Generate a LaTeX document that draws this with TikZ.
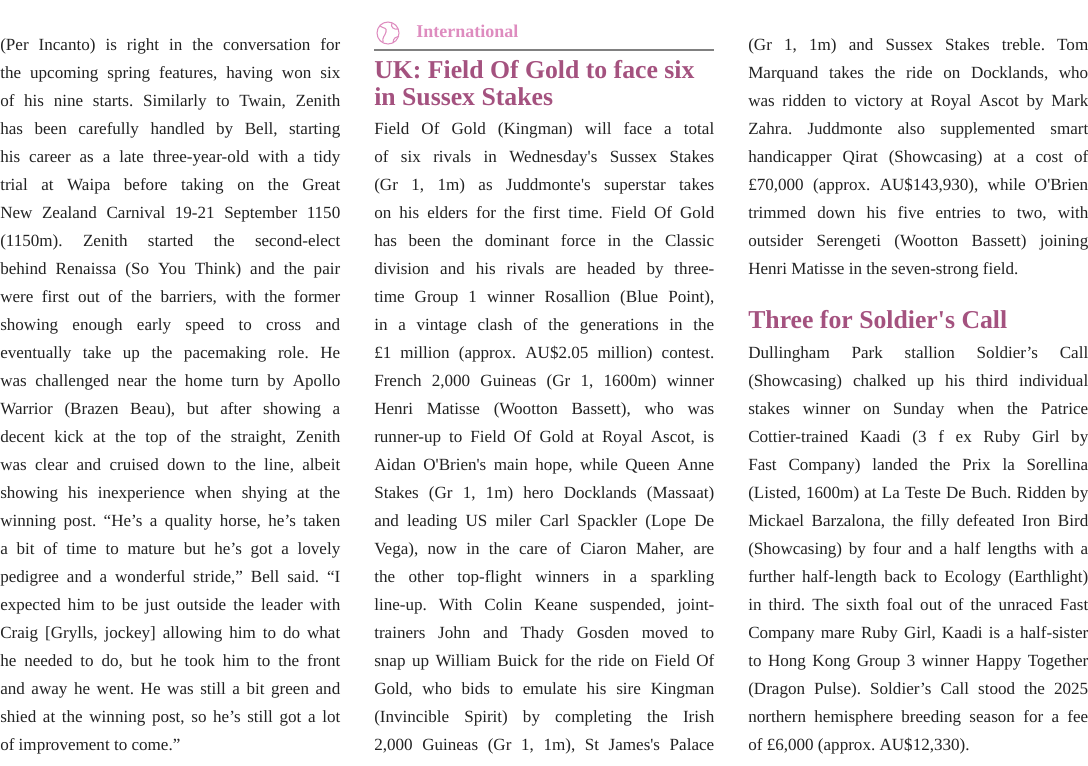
\documentclass[tikz,border=0pt]{standalone}
\usepackage{fontspec}
\setmainfont{Liberation Serif}
\definecolor{headc}{HTML}{A4527F}
\definecolor{pinkc}{HTML}{DE8CBF}
\definecolor{bodyc}{HTML}{222222}
\newcommand{\SpSet}{\spaceskip=.25em plus 2em minus .12em\relax}
\newcommand{\JL}[3]{\node[jl] at (#1,#2) {\makebox[255pt][s]{\SpSet #3}};}
\newcommand{\RL}[3]{\node[jl] at (#1,#2) {#3};}
\begin{document}
\frenchspacing
\begin{tikzpicture}[x=0.75pt,y=-0.75pt,
  jl/.style={anchor=base west,inner sep=0pt,font=\fontsize{12.8}{14}\selectfont,text=bodyc},
  hd/.style={anchor=base west,inner sep=0pt,font=\fontsize{19.3}{24}\selectfont\bfseries,text=headc}]
\useasboundingbox (0,0) rectangle (1088,765);
% column 1
\JL{0}{50}{(Per Incanto) is right in the conversation for}
\JL{0}{78}{the upcoming spring features, having won six}
\JL{0}{106}{of his nine starts. Similarly to Twain, Zenith}
\JL{0}{134}{has been carefully handled by Bell, starting}
\JL{0}{162}{his career as a late three-year-old with a tidy}
\JL{0}{190}{trial at Waipa before taking on the Great}
\JL{0}{218}{New Zealand Carnival 19-21 September 1150}
\JL{0}{246}{(1150m). Zenith started the second-elect}
\JL{0}{274}{behind Renaissa (So You Think) and the pair}
\JL{0}{302}{were first out of the barriers, with the former}
\JL{0}{330}{showing enough early speed to cross and}
\JL{0}{358}{eventually take up the pacemaking role. He}
\JL{0}{386}{was challenged near the home turn by Apollo}
\JL{0}{414}{Warrior (Brazen Beau), but after showing a}
\JL{0}{442}{decent kick at the top of the straight, Zenith}
\JL{0}{470}{was clear and cruised down to the line, albeit}
\JL{0}{498}{showing his inexperience when shying at the}
\JL{0}{526}{winning post. “He’s a quality horse, he’s taken}
\JL{0}{554}{a bit of time to mature but he’s got a lovely}
\JL{0}{582}{pedigree and a wonderful stride,” Bell said. “I}
\JL{0}{610}{expected him to be just outside the leader with}
\JL{0}{638}{Craig [Grylls, jockey] allowing him to do what}
\JL{0}{666}{he needed to do, but he took him to the front}
\JL{0}{694}{and away he went. He was still a bit green and}
\JL{0}{722}{shied at the winning post, so he’s still got a lot}
\RL{0}{750}{of improvement to come.”}
% column 2 header
\begin{scope}[pinkc,line width=0.8pt]
\draw (388,33) circle (11);
\draw (380,26) .. controls (384,29) and (387,27) .. (386,32) .. controls (385,36) and (382,37) .. (383,42);
\draw (392,23) .. controls (390,27) and (394,30) .. (398,29);
\draw (393,43) .. controls (393,38) and (396,37) .. (399,36);
\end{scope}
\node[anchor=base west,inner sep=0pt,font=\fontsize{13.5}{16}\selectfont\bfseries,text=pinkc] (intl) at (416,37) {International};
\draw[gray,line width=0.8pt] (374,50) -- (714,50);
\node[hd] (h1) at (374,78) {UK: Field Of Gold to face six};
\node[hd] (h2) at (374,105) {in Sussex Stakes};
% column 2 body
\JL{374}{134}{Field Of Gold (Kingman) will face a total}
\JL{374}{162}{of six rivals in Wednesday\textquotesingle s Sussex Stakes}
\JL{374}{190}{(Gr 1, 1m) as Juddmonte\textquotesingle s superstar takes}
\JL{374}{218}{on his elders for the first time. Field Of Gold}
\JL{374}{246}{has been the dominant force in the Classic}
\JL{374}{274}{division and his rivals are headed by three-}
\JL{374}{302}{time Group 1 winner Rosallion (Blue Point),}
\JL{374}{330}{in a vintage clash of the generations in the}
\JL{374}{358}{£1 million (approx. AU\$2.05 million) contest.}
\JL{374}{386}{French 2,000 Guineas (Gr 1, 1600m) winner}
\JL{374}{414}{Henri Matisse (Wootton Bassett), who was}
\JL{374}{442}{runner-up to Field Of Gold at Royal Ascot, is}
\JL{374}{470}{Aidan O\textquotesingle Brien\textquotesingle s main hope, while Queen Anne}
\JL{374}{498}{Stakes (Gr 1, 1m) hero Docklands (Massaat)}
\JL{374}{526}{and leading US miler Carl Spackler (Lope De}
\JL{374}{554}{Vega), now in the care of Ciaron Maher, are}
\JL{374}{582}{the other top-flight winners in a sparkling}
\JL{374}{610}{line-up. With Colin Keane suspended, joint-}
\JL{374}{638}{trainers John and Thady Gosden moved to}
\JL{374}{666}{snap up William Buick for the ride on Field Of}
\JL{374}{694}{Gold, who bids to emulate his sire Kingman}
\JL{374}{722}{(Invincible Spirit) by completing the Irish}
\JL{374}{750}{2,000 Guineas (Gr 1, 1m), St James\textquotesingle s Palace}
% column 3
\JL{748}{50}{(Gr 1, 1m) and Sussex Stakes treble. Tom}
\JL{748}{78}{Marquand takes the ride on Docklands, who}
\JL{748}{106}{was ridden to victory at Royal Ascot by Mark}
\JL{748}{134}{Zahra. Juddmonte also supplemented smart}
\JL{748}{162}{handicapper Qirat (Showcasing) at a cost of}
\JL{748}{190}{£70,000 (approx. AU\$143,930), while O\textquotesingle Brien}
\JL{748}{218}{trimmed down his five entries to two, with}
\JL{748}{246}{outsider Serengeti (Wootton Bassett) joining}
\RL{748}{274}{Henri Matisse in the seven-strong field.}
\node[hd] (h3) at (748,328) {Three for Soldier\textquotesingle s Call};
\JL{748}{358}{Dullingham Park stallion Soldier’s Call}
\JL{748}{386}{(Showcasing) chalked up his third individual}
\JL{748}{414}{stakes winner on Sunday when the Patrice}
\JL{748}{442}{Cottier-trained Kaadi (3 f ex Ruby Girl by}
\JL{748}{470}{Fast Company) landed the Prix la Sorellina}
\JL{748}{498}{(Listed, 1600m) at La Teste De Buch. Ridden by}
\JL{748}{526}{Mickael Barzalona, the filly defeated Iron Bird}
\JL{748}{554}{(Showcasing) by four and a half lengths with a}
\JL{748}{582}{further half-length back to Ecology (Earthlight)}
\JL{748}{610}{in third. The sixth foal out of the unraced Fast}
\JL{748}{638}{Company mare Ruby Girl, Kaadi is a half-sister}
\JL{748}{666}{to Hong Kong Group 3 winner Happy Together}
\JL{748}{694}{(Dragon Pulse). Soldier’s Call stood the 2025}
\JL{748}{722}{northern hemisphere breeding season for a fee}
\RL{748}{750}{of £6,000 (approx. AU\$12,330).}
\end{tikzpicture}
\end{document}
